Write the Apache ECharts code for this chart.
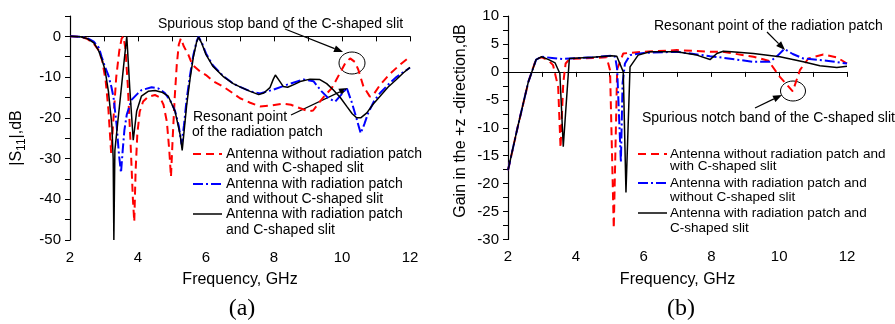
<!DOCTYPE html>
<html>
<head>
<meta charset="utf-8">
<script src="https://cdn.jsdelivr.net/npm/echarts@6/dist/echarts.min.js"></script>
<style>
  html, body { margin: 0; padding: 0; background: #fff; }
  #chart { width: 895px; height: 324px; }
</style>
</head>
<body>
<div id="chart"></div>
<script>
  // (a) |S11| curves, [GHz, dB]
  const s11NoPatchSlit = [
    [2, 0], [2.3, -0.1], [2.5, -0.6], [2.7, -1.8], [2.85, -3.5], [2.95, -6], [3.05, -11], [3.13, -18],
    [3.21, -28.6], [3.28, -20], [3.36, -10], [3.45, -3.5], [3.52, -0.5], [3.57, 0], [3.63, -3], [3.7, -12],
    [3.78, -26], [3.85, -40], [3.89, -45.5], [3.93, -33], [3.98, -24], [4.05, -18.5], [4.15, -16], [4.3, -14.8],
    [4.5, -14.4], [4.65, -15], [4.75, -16.8], [4.85, -21], [4.92, -28], [4.97, -34.5], [5.02, -25], [5.08, -15],
    [5.14, -7], [5.2, -2], [5.26, -0.5], [5.35, -2.5], [5.48, -4.5], [5.6, -7], [5.82, -8.6], [6.0, -9.5],
    [6.21, -11], [6.5, -12.3], [6.8, -14], [7.0, -15.2], [7.3, -16.3], [7.59, -17.2], [7.9, -17], [8.27, -16.5],
    [8.5, -16.8], [8.75, -17.6], [9.01, -18.4], [9.15, -18.2], [9.35, -16], [9.5, -14.5], [9.7, -12.7], [9.94, -9],
    [10.1, -6.5], [10.24, -5.4], [10.38, -6.3], [10.48, -8.2], [10.63, -12.3], [10.82, -14.8], [10.95, -14], [11.12, -11.9],
    [11.41, -9.2], [11.7, -7], [12, -5]
  ]
  const s11PatchNoSlit = [
    [2, 0], [2.3, -0.1], [2.5, -0.4], [2.7, -1.3], [2.85, -2.8], [2.93, -5], [3.03, -7.5], [3.13, -9.6],
    [3.22, -12.5], [3.28, -15], [3.37, -21.7], [3.44, -29], [3.5, -33.5], [3.55, -28], [3.6, -23], [3.67, -19.2],
    [3.81, -15.6], [3.96, -14.3], [4.1, -13.2], [4.4, -12.5], [4.6, -12.8], [4.79, -13.9], [4.95, -15.8], [5.09, -18.3],
    [5.2, -22], [5.28, -26.5], [5.35, -22], [5.43, -15.5], [5.53, -9.5], [5.63, -4.5], [5.72, -1.3], [5.78, -0.1],
    [5.88, -1.6], [6.0, -4.2], [6.2, -7.1], [6.5, -9.7], [6.8, -11.6], [7.0, -12.4], [7.3, -13.5], [7.59, -14],
    [7.98, -13.1], [8.37, -11.9], [8.86, -10.6], [9.16, -11], [9.4, -13.5], [9.6, -15.2], [9.8, -16], [9.98, -14.3],
    [10.14, -12.7], [10.28, -16], [10.38, -18.8], [10.55, -23.8], [10.66, -21.5], [10.77, -18.8], [10.95, -15.8], [11.12, -13.9],
    [11.4, -11.5], [11.6, -10], [11.8, -8.8], [12, -7.7]
  ]
  const s11PatchSlit = [
    [2, 0], [2.3, -0.1], [2.5, -0.5], [2.7, -1.6], [2.83, -3.3], [2.93, -5.5], [3.03, -8.2], [3.13, -13.5],
    [3.23, -21.7], [3.27, -30], [3.29, -50], [3.32, -28], [3.4, -21.5], [3.5, -13.5], [3.58, -7], [3.67, 0],
    [3.76, -13], [3.86, -25.5], [3.96, -18.4], [4.1, -14.7], [4.3, -13.5], [4.5, -13.3], [4.7, -13.7], [4.89, -14.7],
    [5.09, -18.4], [5.24, -24.2], [5.3, -28], [5.43, -17], [5.53, -10.5], [5.63, -5], [5.72, -1.5], [5.78, -0.2],
    [5.88, -1.8], [6.0, -4.5], [6.2, -7.3], [6.5, -9.8], [6.8, -11.6], [7.0, -12.4], [7.3, -13.5], [7.55, -14.3],
    [7.7, -13.9], [7.88, -12.6], [7.98, -10.5], [8.04, -9.5], [8.15, -10.8], [8.27, -12.3], [8.4, -12.5], [8.6, -11.8],
    [8.8, -11], [9.06, -10.5], [9.35, -10.6], [9.55, -11.6], [9.74, -13.1], [9.95, -15], [10.14, -17.2], [10.3, -19],
    [10.43, -20], [10.55, -20], [10.73, -18.8], [10.92, -16.6], [11.12, -14.7], [11.35, -12.5], [11.6, -10.6], [11.8, -9],
    [12, -7.6]
  ]

  // (b) gain in +z direction, [GHz, dB]
  const gainNoPatchSlit = [
    [2, -17.6], [2.3, -9.5], [2.6, -1.8], [2.83, 2.3], [3.0, 2.6], [3.2, 2], [3.33, 1.2], [3.48, -2.7],
    [3.55, -13.6], [3.63, -2], [3.7, 1.5], [3.81, 2.3], [4.5, 2.5], [4.91, 2.6], [5.01, 0.3], [5.12, -28],
    [5.22, 0.5], [5.4, 3.3], [5.6, 3.4], [6, 3.6], [6.98, 3.9], [7.96, 3.6], [8.34, 3.6], [9.24, 2.7],
    [9.68, 2], [10.02, -0.9], [10.4, -3.5], [10.61, 0.3], [10.86, 2.4], [11.3, 3.1], [11.7, 2.6], [12, 1.5]
  ]
  const gainPatchNoSlit = [
    [2, -17.6], [2.3, -9.5], [2.6, -1.8], [2.83, 2.2], [3.0, 2.7], [3.3, 2.5], [3.6, 2.3], [3.81, 2.4],
    [4.5, 2.6], [5.06, 2.9], [5.16, 2.7], [5.22, 0.5], [5.33, -16.2], [5.38, -2], [5.45, 1.5], [5.6, 3],
    [6.0, 3.4], [6.98, 3.6], [7.96, 2.8], [8.25, 2.6], [9.24, 1.8], [9.73, 1.8], [9.97, 3], [10.15, 4.1],
    [10.4, 3.2], [10.71, 2.4], [11.4, 2], [12, 1.5]
  ]
  const gainPatchSlit = [
    [2, -17.6], [2.3, -9.5], [2.6, -1.8], [2.83, 2.2], [2.99, 2.7], [3.2, 2.2], [3.39, 1.6], [3.53, -0.3],
    [3.63, -13.4], [3.81, 2.4], [4.5, 2.6], [5.06, 2.9], [5.21, 2.8], [5.4, 0], [5.48, -21.6], [5.6, 0.9],
    [5.84, 3], [6.19, 3.6], [6.98, 3.6], [7.57, 3], [7.96, 2.2], [8.16, 3.3], [8.35, 3.7], [8.6, 3.6],
    [9.24, 3.3], [10.02, 2.7], [10.71, 1.8], [11.2, 1.1], [11.7, 0.8], [12, 1]
  ]

  const legendA = [
    ['Antenna without radiation patch', 'and with C-shaped slit'],
    ['Antenna with radiation patch', 'and without C-shaped slit'],
    ['Antenna with radiation patch', 'and C-shaped slit']
  ]
  const legendB = [
    ['Antenna without radiation patch and', 'with C-shaped slit'],
    ['Antenna with radiation patch and', 'without C-shaped slit'],
    ['Antenna with radiation patch and', 'C-shaped slit']
  ]

  const FONT = '"Liberation Sans", Arial, sans-serif'
  const styles = [
    {color: '#ff0000', width: 2, type: [8, 5]},
    {color: '#0000ff', width: 2, type: [10, 3, 2, 3]},
    {color: '#000000', width: 1.5, type: 'solid'}
  ]

  function txt(x, y, s, size, extra) {
    return Object.assign({
      type: 'text', x: x, y: y, silent: true,
      style: {text: s, fill: '#000', font: size + 'px ' + FONT, textVerticalAlign: 'middle', verticalAlign: 'middle'}
    }, extra || {})
  }

  function arrow(x1, y1, x2, y2) {
    const a = Math.atan2(y2 - y1, x2 - x1)
    const L = 9, W = 3.5
    const bx = x2 - L * Math.cos(a), by = y2 - L * Math.sin(a)
    return [
      {type: 'line', silent: true, shape: {x1: x1, y1: y1, x2: bx, y2: by}, style: {stroke: '#000', lineWidth: 1.2}},
      {type: 'polygon', silent: true, shape: {points: [[x2, y2],
        [bx + W * Math.sin(a), by - W * Math.cos(a)], [bx - W * Math.sin(a), by + W * Math.cos(a)]]},
        style: {fill: '#000'}}
    ]
  }

  function legend(lx1, lx2, tx, rows, size, texts) {
    let out = []
    rows.forEach((r, i) => {
      const st = styles[i]
      out.push({type: 'line', silent: true, shape: {x1: lx1, y1: r[0], x2: lx2, y2: r[0]},
        style: {stroke: st.color, lineWidth: st.width, lineDash: st.type === 'solid' ? null : st.type}})
      out.push(txt(tx, r[0], texts[i][0], size))
      out.push(txt(tx, r[1], texts[i][1], size))
    })
    return out
  }

  function xAxisCfg(idx) {
    return {
      type: 'value', gridIndex: idx, min: 2, max: 12, interval: 1,
      name: 'Frequency, GHz', nameLocation: 'middle', nameGap: 32,
      nameTextStyle: {fontFamily: FONT, fontSize: 16, color: '#000'},
      axisLine: {lineStyle: {color: '#000', width: 1.2}},
      axisTick: {length: 5, lineStyle: {color: '#000'}},
      axisLabel: {fontFamily: FONT, fontSize: 15, color: '#000', margin: 10,
        formatter: v => (v % 2 === 0 ? String(v) : '')},
      splitLine: {show: false}
    }
  }

  function yAxisCfg(idx, min, max, step, labelStep) {
    return {
      type: 'value', gridIndex: idx, min: min, max: max, interval: step,
      axisLine: {show: true, lineStyle: {color: '#000', width: 1.2}},
      axisTick: {show: true, length: 5, lineStyle: {color: '#000'}},
      axisLabel: {fontFamily: FONT, fontSize: 15, color: '#000', margin: 9,
        formatter: v => (Math.abs(v % labelStep) < 1e-9 && v <= max - step + 1e-9 || v === max && v % labelStep === 0 ? String(v) : '')},
      splitLine: {show: false}
    }
  }

  function line(name, data, st, idx) {
    return {
      name: name, type: 'line', data: data, xAxisIndex: idx, yAxisIndex: idx,
      showSymbol: false, symbol: 'none', smooth: false, clip: true,
      lineStyle: {color: st.color, width: st.width, type: st.type}
    }
  }

  const chart = echarts.init(document.getElementById('chart'))

  let graphics = []
  // y axis titles
  graphics.push(txt(17, 138, '|S{sub|11}|,dB', 16, {rotation: Math.PI / 2,
    style: {text: '|S{sub|11}|,dB', fill: '#000', font: '16px ' + FONT, textAlign: 'center', align: 'center',
      textVerticalAlign: 'middle', verticalAlign: 'middle',
      rich: {sub: {fontFamily: FONT, fontSize: 12, fill: '#000', padding: [9, 0, 0, 0]}}}}))
  graphics.push(txt(461, 121, 'Gain in the +z -direction,dB', 16, {rotation: Math.PI / 2,
    style: {text: 'Gain in the +z -direction,dB', fill: '#000', font: '16px ' + FONT, textAlign: 'center', align: 'center',
      textVerticalAlign: 'middle', verticalAlign: 'middle'}}))

  // panel labels
  graphics.push(txt(242, 309, '(a)', 24, {style: {text: '(a)', fill: '#000', font: '24px "Liberation Serif", serif',
    textAlign: 'center', align: 'center', textVerticalAlign: 'middle', verticalAlign: 'middle'}}))
  graphics.push(txt(681, 309, '(b)', 24, {style: {text: '(b)', fill: '#000', font: '24px "Liberation Serif", serif',
    textAlign: 'center', align: 'center', textVerticalAlign: 'middle', verticalAlign: 'middle'}}))

  // annotations (a)
  graphics.push(txt(158, 24, 'Spurious stop band of the C-shaped slit', 14))
  graphics = graphics.concat(arrow(285, 29, 343, 52))
  graphics.push({type: 'ellipse', silent: true, shape: {cx: 352, cy: 63, rx: 13, ry: 11}, style: {fill: null, stroke: '#000', lineWidth: 1}})
  graphics.push(txt(193, 117, 'Resonant point', 14))
  graphics.push(txt(192, 132, 'of the radiation patch', 14))
  graphics = graphics.concat(arrow(291, 115, 348, 88))

  // annotations (b)
  graphics.push(txt(654, 26, 'Resonant point of the radiation patch', 14))
  graphics = graphics.concat(arrow(767, 32, 785, 50))
  graphics.push(txt(642, 118, 'Spurious notch band of the C-shaped slit', 14))
  graphics.push({type: 'ellipse', silent: true, shape: {cx: 793, cy: 91, rx: 12.5, ry: 10}, style: {fill: null, stroke: '#000', lineWidth: 1}})
  graphics = graphics.concat(arrow(755, 108, 782, 95))

  // legends
  graphics = graphics.concat(legend(193, 222, 226, [[154, 168.5], [184, 199.5], [214, 230]], 14, legendA))
  graphics = graphics.concat(legend(638, 667, 670, [[154, 166], [183, 197.5], [213, 228.5]], 13.5, legendB))

  chart.setOption({
    animation: false,
    backgroundColor: '#fff',
    grid: [
      {left: 70, top: 16, width: 340, height: 224},
      {left: 508, top: 16, width: 339, height: 223.5}
    ],
    xAxis: [xAxisCfg(0), xAxisCfg(1)],
    yAxis: [yAxisCfg(0, -50, 5, 5, 10), yAxisCfg(1, -30, 10, 2.5, 5)],
    series: [
      line('a1', s11NoPatchSlit, styles[0], 0),
      line('a2', s11PatchNoSlit, styles[1], 0),
      line('a3', s11PatchSlit, styles[2], 0),
      line('b1', gainNoPatchSlit, styles[0], 1),
      line('b2', gainPatchNoSlit, styles[1], 1),
      line('b3', gainPatchSlit, styles[2], 1)
    ],
    graphic: graphics
  })
</script>
</body>
</html>
